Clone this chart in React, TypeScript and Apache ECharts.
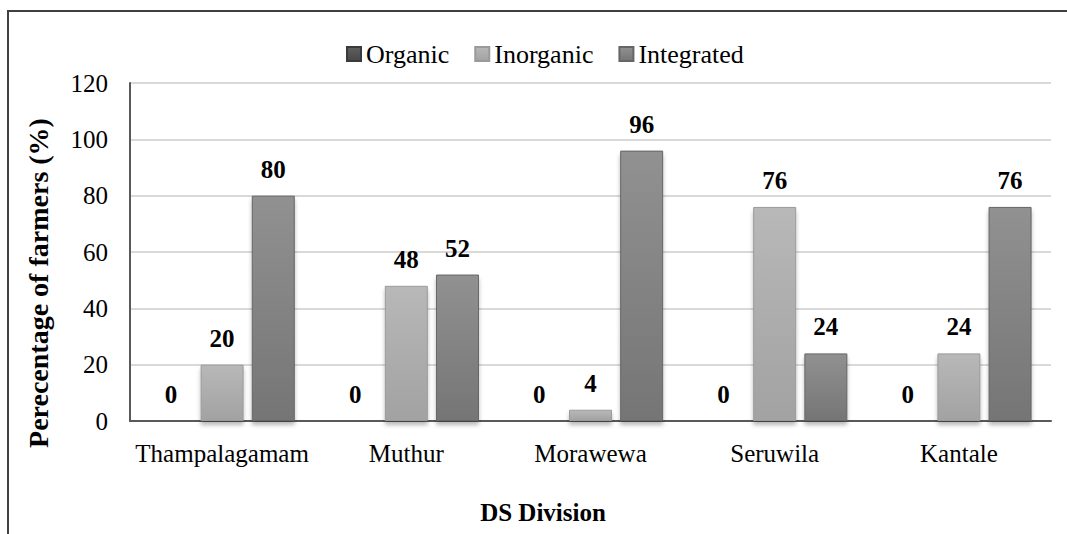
import React, { useEffect, useRef } from "react";
import * as echarts from "echarts";

const categories = ["Thampalagamam", "Muthur", "Morawewa", "Seruwila", "Kantale"];
const organic = [0, 0, 0, 0, 0];
const inorganic = [20, 48, 4, 76, 24];
const integrated = [80, 52, 96, 24, 76];
const yTicks = { min: 0, max: 120, interval: 20 };

const FONT = "Times New Roman, Liberation Serif, DejaVu Serif, serif";

function grad(top: string, bottom: string) {
  return new echarts.graphic.LinearGradient(0, 0, 0, 1, [
    { offset: 0, color: top },
    { offset: 1, color: bottom },
  ]);
}

export default function App() {
  const ref = useRef<HTMLDivElement>(null);
  useEffect(() => {
    if (!ref.current) return;
    const chart = echarts.init(ref.current, undefined, { renderer: "svg" });
    const label = {
      show: true,
      position: "top",
      distance: 14,
      fontFamily: FONT,
      fontWeight: "bold",
      fontSize: 25,
      color: "#000",
    };
    const shadow = {
      shadowColor: "rgba(0,0,0,0.28)",
      shadowBlur: 4,
      shadowOffsetY: 4,
    };
    chart.setOption({
      animation: false,
      backgroundColor: "#fff",
      textStyle: { fontFamily: FONT },
      legend: {
        left: 341,
        top: 36,
        itemWidth: 14,
        itemHeight: 14,
        itemGap: 25,
        icon: "rect",
        textStyle: { fontFamily: FONT, fontSize: 26, color: "#000", padding: [0, 0, 0, 0] },
        data: ["Organic", "Inorganic", "Integrated"],
      },
      grid: { left: 130, right: 16, top: 83, bottom: 113, containLabel: false },
      xAxis: {
        type: "category",
        data: categories,
        axisTick: { show: false },
        axisLine: { lineStyle: { color: "#595959", width: 2 } },
        axisLabel: { fontFamily: FONT, fontSize: 25, color: "#000", margin: 20, interval: 0 },
      },
      yAxis: {
        type: "value",
        min: yTicks.min,
        max: yTicks.max,
        interval: yTicks.interval,
        name: "Perecentage of farmers (%)",
        nameLocation: "middle",
        nameRotate: 90,
        nameGap: 78,
        nameTextStyle: { fontFamily: FONT, fontSize: 28, fontWeight: "bold", color: "#000", padding: [0, 62, 0, 0] },
        axisLine: { show: true, lineStyle: { color: "#595959", width: 2 } },
        axisTick: { show: false },
        splitLine: { lineStyle: { color: "#d9d9d9", width: 2 } },
        axisLabel: { fontFamily: FONT, fontSize: 25, color: "#000", margin: 22 },
      },
      graphic: [
        {
          type: "rect",
          shape: { x: 8, y: 11, width: 1200, height: 700 },
          style: { fill: "none", stroke: "#404040", lineWidth: 2 },
          silent: true,
        },
        {
          type: "text",
          x: 543,
          y: 512,
          style: {
            text: "DS Division",
            fontFamily: FONT,
            fontSize: 25,
            fontWeight: "bold",
            fill: "#000",
            textAlign: "center",
            textVerticalAlign: "middle",
          },
        },
      ],
      series: [
        {
          name: "Organic",
          type: "bar",
          data: organic,
          barWidth: 43,
          barGap: "19%",
          itemStyle: { color: grad("#606060", "#474747"), borderColor: "#3a3a3a", borderWidth: 1, ...shadow },
          label,
        },
        {
          name: "Inorganic",
          type: "bar",
          data: inorganic,
          barWidth: 43,
          barGap: "19%",
          itemStyle: { color: grad("#b8b8b8", "#a2a2a2"), borderColor: "#9a9a9a", borderWidth: 1, ...shadow },
          label,
        },
        {
          name: "Integrated",
          type: "bar",
          data: integrated,
          barWidth: 43,
          barGap: "19%",
          itemStyle: { color: grad("#919191", "#757575"), borderColor: "#666", borderWidth: 1, ...shadow },
          label,
        },
      ],
    });
    return () => chart.dispose();
  }, []);
  return (
    <div
      ref={ref}
      style={{ position: "fixed", left: 0, top: 0, width: 1067, height: 534 }}
    />
  );
}
